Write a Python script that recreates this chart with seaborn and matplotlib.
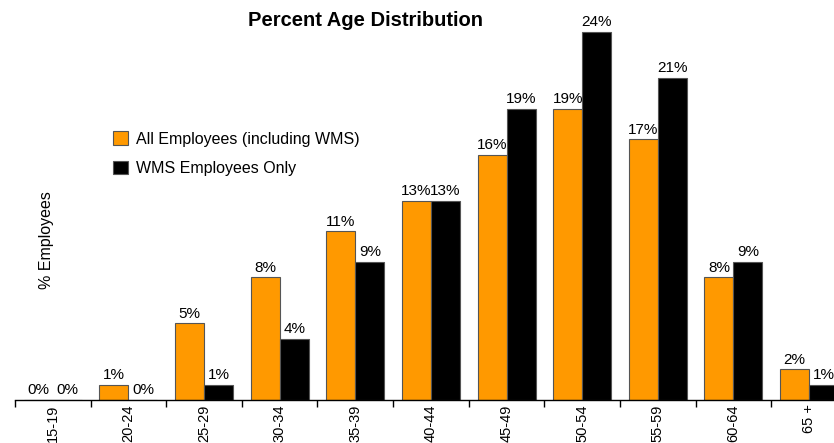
import matplotlib
matplotlib.use("Agg")
import matplotlib.pyplot as plt
import seaborn as sns
import pandas as pd
import numpy as np

age_groups = ["15-19", "20-24", "25-29", "30-34", "35-39", "40-44",
              "45-49", "50-54", "55-59", "60-64", "65 +"]
all_employees = [0, 1, 5, 8, 11, 13, 16, 19, 17, 8, 2]
wms_employees = [0, 0, 1, 4, 9, 13, 19, 24, 21, 9, 1]
series_names = ["All Employees (including WMS)", "WMS Employees Only"]
series_colors = ["#FF9900", "#000000"]

df = pd.DataFrame({
    "Age": age_groups * 2,
    "Percent": all_employees + wms_employees,
    "Series": [series_names[0]] * len(age_groups) + [series_names[1]] * len(age_groups),
})

sns.set_style("white")
plt.rcParams["font.family"] = ["Liberation Sans", "DejaVu Sans"]
plt.rcParams["text.color"] = "black"
plt.rcParams["xtick.color"] = "black"
plt.rcParams["axes.labelcolor"] = "black"

fig = plt.figure(figsize=(8.34, 4.43), dpi=100)
ax = fig.add_axes([15 / 834, 43 / 443, 1 - 15 / 834, 400 / 443])

sns.barplot(data=df, x="Age", y="Percent", hue="Series", order=age_groups,
            hue_order=series_names, palette=series_colors, width=0.766,
            gap=0, saturation=1, edgecolor="#555555", linewidth=0.8, ax=ax,
            legend=True)

for cont in ax.containers:
    ax.bar_label(cont, fmt="%d%%", padding=2, fontsize=11, color="black")

ax.set_yticks([])
ax.set_xlabel("")
ax.set_ylabel("")

for side in ["left", "right", "top"]:
    ax.spines[side].set_visible(False)
ax.spines["bottom"].set_color("black")
ax.spines["bottom"].set_linewidth(1.0)

# Category labels at centers, tick marks at boundaries
ax.set_xticks(range(len(age_groups)))
ax.set_xticklabels(age_groups, rotation=90, fontsize=10.5, va="top")
ax.tick_params(axis="x", which="major", length=0, pad=3)
ax.set_xticks(np.arange(-0.5, len(age_groups), 1.0), minor=True)
ax.tick_params(axis="x", which="minor", length=5, width=1, color="black",
               direction="out", bottom=True)

ax.set_xlim(-0.5, 10.33)
ax.set_ylim(0, 26.1)

fig.text(365 / 834, 1 - 20 / 443, "Percent Age Distribution", ha="center",
         va="center", fontsize=14.5, fontweight="bold")
fig.text(47 / 834, 1 - 240 / 443, "% Employees", rotation=90, ha="center",
         va="center", fontsize=11.5)

leg = ax.legend(loc="upper left", bbox_to_anchor=(107 / 834, 1 - 125 / 443),
                bbox_transform=fig.transFigure, frameon=False, fontsize=11.5,
                handlelength=0.9, handleheight=0.9, handletextpad=0.5,
                labelspacing=0.88, borderaxespad=0)

fig.savefig("out.png", dpi=100)
